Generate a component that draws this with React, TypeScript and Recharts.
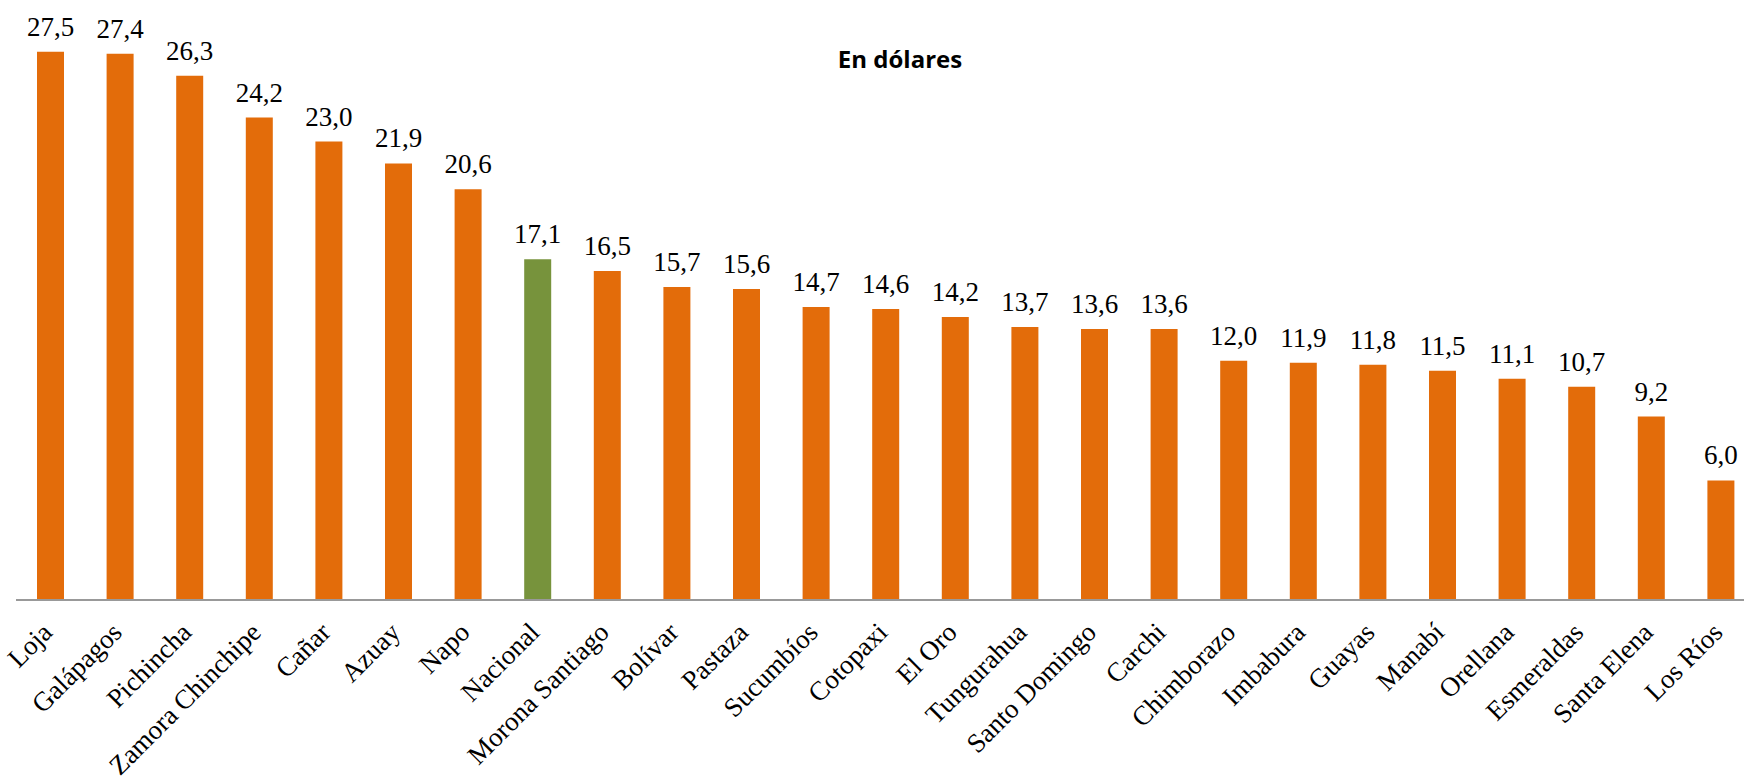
import { Bar, BarChart, Cell, LabelList, XAxis, YAxis } from "recharts";

const provinces = [
  "Loja",
  "Galápagos",
  "Pichincha",
  "Zamora Chinchipe",
  "Cañar",
  "Azuay",
  "Napo",
  "Nacional",
  "Morona Santiago",
  "Bolívar",
  "Pastaza",
  "Sucumbíos",
  "Cotopaxi",
  "El Oro",
  "Tungurahua",
  "Santo Domingo",
  "Carchi",
  "Chimborazo",
  "Imbabura",
  "Guayas",
  "Manabí",
  "Orellana",
  "Esmeraldas",
  "Santa Elena",
  "Los Ríos",
];

const dollars = [
  27.5, 27.4, 26.3, 24.2, 23.0, 21.9, 20.6, 17.1, 16.5, 15.7, 15.6, 14.7, 14.6,
  14.2, 13.7, 13.6, 13.6, 12.0, 11.9, 11.8, 11.5, 11.1, 10.7, 9.2, 6.0,
];

const highlight = "Nacional";

const ORANGE = "#E36C0A";
const GREEN = "#77933C";
const SERIF = "'Liberation Serif', serif";

const data = provinces.map((name, i) => ({ name, value: dollars[i] }));

const fmt = (v: number) => v.toFixed(1).replace(".", ",");

function CategoryTick(props: any) {
  const { x, y, payload } = props;
  return (
    <g transform={`translate(${x + 3},${y + 26})`}>
      <text
        transform="rotate(-45)"
        textAnchor="end"
        fontFamily={SERIF}
        fontSize={27}
        fill="#000"
      >
        {payload.value}
      </text>
    </g>
  );
}

function ValueLabel(props: any) {
  const { x, y, width, value } = props;
  return (
    <text
      x={x + width / 2}
      y={y - 16}
      textAnchor="middle"
      fontFamily={SERIF}
      fontSize={27}
      fill="#000"
    >
      {fmt(value)}
    </text>
  );
}

export default function App() {
  return (
    <div
      style={{
        position: "absolute",
        left: 0,
        top: 0,
        width: 1744,
        height: 780,
        overflow: "hidden",
        background: "#fff",
      }}
    >
      <BarChart
        width={1760}
        height={780}
        data={data}
        margin={{ top: 2, right: 4, bottom: 20, left: 16 }}
      >
        <XAxis
          dataKey="name"
          interval={0}
          height={160}
          tickLine={false}
          axisLine={{ stroke: "#999999", strokeWidth: 2 }}
          tick={<CategoryTick />}
        />
        <YAxis hide domain={[0, 30]} />
        <Bar dataKey="value" barSize={27} isAnimationActive={false}>
          {data.map((d) => (
            <Cell key={d.name} fill={d.name === highlight ? GREEN : ORANGE} />
          ))}
          <LabelList dataKey="value" content={<ValueLabel />} />
        </Bar>
      </BarChart>
      <div
        style={{
          position: "absolute",
          left: 780,
          top: 47,
          width: 240,
          textAlign: "center",
          fontFamily: "'Open Sans', sans-serif",
          fontWeight: 700,
          fontSize: 24,
          lineHeight: "24px",
          color: "#000",
        }}
      >
        En dólares
      </div>
    </div>
  );
}
